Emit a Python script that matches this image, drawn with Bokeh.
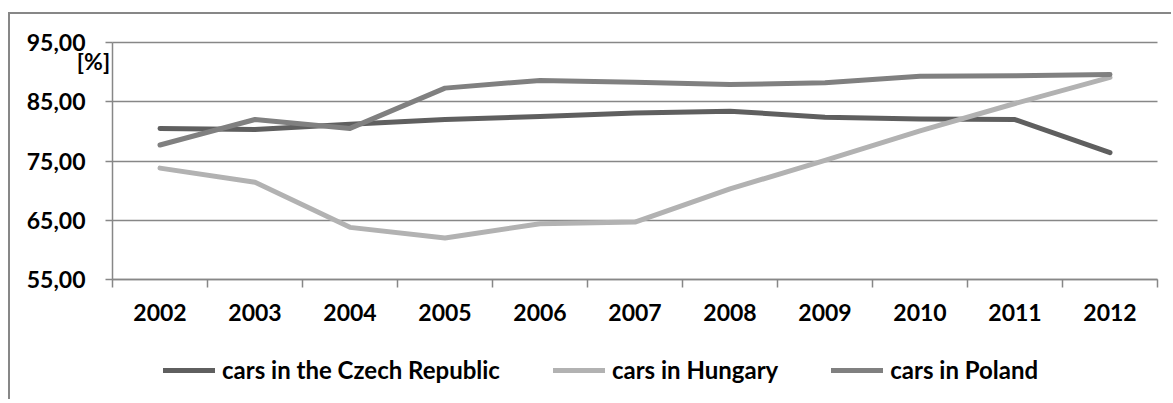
from bokeh.plotting import figure
from bokeh.models import FixedTicker, Range1d, Legend, LegendItem, Label, Grid
from bokeh.embed import file_html
from bokeh.resources import INLINE

years = ["2002", "2003", "2004", "2005", "2006", "2007", "2008", "2009", "2010", "2011", "2012"]
czech = [80.5, 80.3, 81.2, 82.0, 82.5, 83.1, 83.4, 82.4, 82.1, 82.0, 76.4]
hungary = [73.8, 71.4, 63.8, 62.0, 64.4, 64.7, 70.3, 75.1, 80.1, 84.7, 89.1]
poland = [77.7, 82.0, 80.5, 87.3, 88.6, 88.3, 87.9, 88.2, 89.3, 89.4, 89.6]
series_names = ["cars in the Czech Republic", "cars in Hungary", "cars in Poland"]
y_ticks = [55, 65, 75, 85, 95]
y_tick_labels = ["55,00", "65,00", "75,00", "85,00", "95,00"]
y_unit = "[%]"
y_unit_at = 91.9

colors = ["#5f5f5f", "#b2b2b2", "#808080"]
grid_col = "#878787"
FONT = "Lato"
FS = "23px"

# layout (pixels inside the canvas)
W, H = 1163, 387
PLOT_LEFT, PLOT_TOP = 102, 28          # where the plotting area starts
PX_PER_CAT = 95.0
PX_PER_UNIT = 237.0 / (y_ticks[-1] - y_ticks[0])

n = len(years)
xs = [i + 0.5 for i in range(n)]
x0 = -PLOT_LEFT / PX_PER_CAT
y1 = y_ticks[-1] + PLOT_TOP / PX_PER_UNIT

p = figure(width=W, height=H, title=None,
           x_range=Range1d(x0, x0 + W / PX_PER_CAT),
           y_range=Range1d(y1 - H / PX_PER_UNIT, y1),
           output_backend="svg", toolbar_location=None,
           min_border_left=0, min_border_right=0, min_border_top=0, min_border_bottom=0)
p.outline_line_color = None
p.background_fill_color = "white"
p.border_fill_color = "white"
p.styles = {"margin-left": "8px", "margin-top": "12px",
            "border-left": "2px solid #878787", "border-top": "2px solid #878787"}

# y axis
yax = p.yaxis[0]
yax.fixed_location = 0
yax.bounds = (y_ticks[0], y_ticks[-1])
yax.ticker = FixedTicker(ticks=y_ticks, minor_ticks=[])
yax.major_label_overrides = {t: l for t, l in zip(y_ticks, y_tick_labels)}
yax.major_tick_out = 7
yax.major_tick_in = 0
yax.minor_tick_out = 0
yax.minor_tick_in = 0
yax.axis_line_color = grid_col
yax.axis_line_width = 1.5
yax.major_tick_line_color = grid_col
yax.major_tick_line_width = 1.5
yax.major_label_standoff = 20
yax.major_label_text_font = FONT
yax.major_label_text_font_style = "bold"
yax.major_label_text_font_size = FS
yax.major_label_text_color = "black"

# x axis
xax = p.xaxis[0]
xax.fixed_location = y_ticks[0]
xax.bounds = (0, n)
xax.ticker = FixedTicker(ticks=xs, minor_ticks=list(range(n + 1)))
xax.major_label_overrides = {x: y for x, y in zip(xs, years)}
xax.major_tick_out = 0
xax.major_tick_in = 0
xax.minor_tick_out = 8
xax.minor_tick_in = 0
xax.minor_tick_line_color = grid_col
xax.minor_tick_line_width = 1.5
xax.axis_line_color = grid_col
xax.axis_line_width = 1.5
xax.major_label_standoff = 16
xax.major_label_text_font = FONT
xax.major_label_text_font_style = "bold"
xax.major_label_text_font_size = FS
xax.major_label_text_color = "black"

p.xgrid.grid_line_color = None
p.ygrid.ticker = FixedTicker(ticks=y_ticks, minor_ticks=[])
p.ygrid.grid_line_color = grid_col
p.ygrid.grid_line_width = 1.5
if "cross_bounds" in Grid.properties():
    p.ygrid.cross_bounds = (0, n)
else:
    p.ygrid.grid_line_color = None
    p.segment(x0=[0] * len(y_ticks), x1=[n] * len(y_ticks), y0=y_ticks, y1=y_ticks,
              line_color=grid_col, line_width=1.5)

renderers = []
for data, col in zip([czech, hungary, poland], colors):
    r = p.line(xs, data, line_color=col, line_width=5, line_cap="round", line_join="round")
    renderers.append(r)

p.add_layout(Label(x=0, y=y_unit_at, x_offset=-19, text=y_unit, text_align="center",
                   text_baseline="middle", text_font=FONT, text_font_style="bold",
                   text_font_size=FS, text_color="black"))

legend = Legend(items=[LegendItem(label=s, renderers=[r]) for s, r in zip(series_names, renderers)],
                orientation="horizontal", location=(153, 17),
                glyph_width=52, glyph_height=20, label_standoff=7, spacing=53,
                padding=0, margin=0, border_line_alpha=0, background_fill_alpha=0,
                label_text_font=FONT, label_text_font_style="bold", label_text_font_size="24px",
                label_text_color="black")
p.add_layout(legend)

open("out.html", "w").write(file_html(p, INLINE))
